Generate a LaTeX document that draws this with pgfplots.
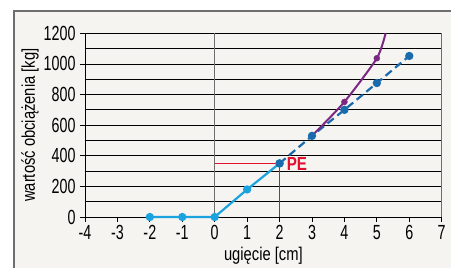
\documentclass[border=0pt]{standalone}
\usepackage{pgfplots}
\pgfplotsset{compat=1.18}
\usepackage{fontspec}
\setmainfont{Liberation Sans}[FakeStretch=0.8]
\newfontfamily\tickfont{Liberation Sans}[FakeStretch=0.7]
\definecolor{bg}{HTML}{F6F4F1}
\definecolor{frame}{HTML}{6E6E6E}
\definecolor{lblue}{HTML}{1BA3E0}
\definecolor{dblue}{HTML}{1A6AAE}
\definecolor{purp}{HTML}{7B2882}
\definecolor{pered}{HTML}{E0102E}
\begin{document}
\begin{tikzpicture}
\useasboundingbox (-85bp,-51bp) rectangle (366bp,217bp);
\clip (-85bp,-51bp) rectangle (366bp,217bp);
\fill[white] (-85bp,-51bp) rectangle (366bp,217bp);
\filldraw[fill=bg, draw=frame, line width=1.2bp] (-71bp,-70bp) rectangle (380bp,206bp);
\begin{axis}[
  at={(0,0)}, anchor=south west,
  scale only axis,
  width=356.7bp, height=183.7bp,
  xmin=-4, xmax=7, ymin=0, ymax=1200,
  xtick={-4,-3,...,7},
  ytick={0,200,...,1200},
  minor ytick={100,300,...,1100},
  ymajorgrids, yminorgrids,
  major grid style={black, line width=0.8bp},
  minor grid style={black, line width=0.8bp},
  axis lines*=left,
  axis line style={black, line width=0.8bp, -},
  tick style={black, line width=0.8bp},
  major tick length=5bp,
  minor tick length=0bp,
  tick align=outside,
  xtick pos=bottom, ytick pos=left,
  extra x ticks={0,7},
  extra x tick labels={,},
  extra x tick style={grid=major, major grid style={frame, line width=0.9bp}, major tick length=0bp},
  /pgf/number format/assume math mode=true,
  /pgf/number format/1000 sep={},
  ticklabel style={font=\tickfont\fontsize{20.5}{22}\selectfont},
  yticklabel style={xshift=-1bp},
  label style={font=\fontsize{18.5}{20}\selectfont},
  xlabel={ugięcie [cm]},
  ylabel={wartość obciążenia [kg]},
  xlabel style={yshift=5bp},
  ylabel style={yshift=-2bp},
  clip=false,
]
\addplot[pered, line width=1.2bp] coordinates {(0,350) (2,350) (2,0)};
\addplot[lblue, line width=2.2bp, mark=*, mark size=3bp, mark options={fill=lblue}]
  coordinates {(-2,0) (-1,0) (0,0) (1,180) (2,350)};
\addplot[dblue, line width=2.2bp, dash pattern=on 8bp off 4.5bp, mark=*, mark size=3bp, mark options={solid, fill=dblue}]
  coordinates {(2,350) (3,530) (4,700) (5,875) (6,1052)};
\addplot[purp, line width=2bp, smooth, tension=0.4]
  coordinates {(3,530) (4,752) (5,1037) (5.27,1200)};
\addplot[purp, only marks, mark=*, mark size=3bp]
  coordinates {(4,752) (5,1037)};
\node[pered, font=\bfseries\fontsize{19}{20}\selectfont, anchor=west, inner sep=0pt] at (axis cs:2.22,345) {PE};
\end{axis}
\end{tikzpicture}
\end{document}
